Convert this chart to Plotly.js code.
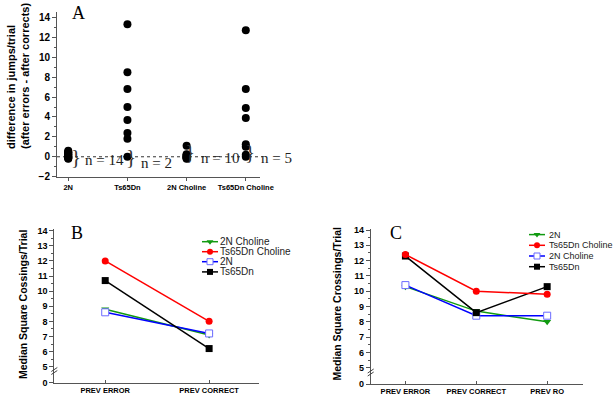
<!DOCTYPE html>
<html><head><meta charset="utf-8">
<script src="https://cdn.plot.ly/plotly-3.0.1.min.js"></script>
<style>html,body{margin:0;padding:0;background:#fff}#chart{width:615px;height:400px}</style>
</head><body><div id="chart"></div>
<script>
// ---------- Panel A data ----------
const groupsA = ["2N", "Ts65Dn", "2N Choline", "Ts65Dn Choline"];
const diff2N = [0.6, 0.5, 0.45, 0.4, 0.3, 0.25, 0.2, 0.1, 0.05, 0.0, -0.05, -0.1, -0.15, -0.2];
const diffTs = [13.3, 8.5, 6.8, 5.0, 3.7, 2.4, 1.8, 0.0];
const diff2NCholine = [1.1, 0.25, 0.2, 0.1, 0.05, 0.0, -0.05, -0.1, -0.15, -0.2];
const diffTsCholine = [12.7, 6.8, 4.9, 3.9, 1.25, 1.0, 0.2, 0.0];
const nLabels = ["n = 14", "n = 2", "n = 10", "n = 5"];
const yTicksA = [-2, 0, 2, 4, 6, 8, 10, 12, 14];

// ---------- Panel B data ----------
const catsB = ["PREV ERROR", "PREV CORRECT"];
const b2NCholine = [8.8, 7.1];
const bTsCholine = [12.0, 8.0];
const b2N = [8.6, 7.2];
const bTs = [10.7, 6.2];

// ---------- Panel C data ----------
const catsC = ["PREV ERROR", "PREV CORRECT", "PREV RO"];
const c2N = [10.3, 8.7, 8.0];
const cTsCholine = [12.4, 10.0, 9.8];
const c2NCholine = [10.4, 8.4, 8.4];
const cTs = [12.3, 8.6, 10.3];

// broken axis tick labels (0, then 5..14)
const brokenTickText = ["0", "5", "6", "7", "8", "9", "10", "11", "12", "13", "14"];
const brokenTickVals = [5, 6, 7, 8, 9, 10, 11, 12, 13, 14];

// ---------- styles ----------
const W = 615, H = 400;
const SANS = "Liberation Sans, Arial, sans-serif";
const SERIF = "Liberation Serif, Times New Roman, serif";
const AX = "#555";
const styles = {
  "2N Choline":     {color: "#119a11", symbol: "triangle-down", line: "#119a11"},
  "Ts65Dn Choline": {color: "#ff0000", symbol: "circle", line: "#ff0000"},
  "2N":             {color: "#ffffff", symbol: "square", line: "#0000ff", edge: "#6b6bff"},
  "Ts65Dn":         {color: "#000000", symbol: "square", line: "#000000"}
};
const stylesC = {
  "2N":             styles["2N Choline"],
  "Ts65Dn Choline": styles["Ts65Dn Choline"],
  "2N Choline":     styles["2N"],
  "Ts65Dn":         styles["Ts65Dn"]
};

function dom(a, b, total) { return [a / total, b / total]; }
function vdom(top, bottom) { return [1 - bottom / H, 1 - top / H]; }

const traces = [];

// Panel A scatter
[diff2N, diffTs, diff2NCholine, diffTsCholine].forEach((vals, i) => {
  traces.push({
    type: "scatter", mode: "markers", xaxis: "x", yaxis: "y",
    x: vals.map(() => groupsA[i]), y: vals,
    marker: {color: "#000", size: 8, symbol: "circle"},
    showlegend: false, hoverinfo: "skip", cliponaxis: false
  });
});

function lineTrace(cats, vals, st, xa, ya) {
  return {
    type: "scatter", mode: "lines+markers", xaxis: xa, yaxis: ya,
    x: cats, y: vals,
    line: {color: st.line, width: 1.5},
    marker: {color: st.color, symbol: st.symbol, size: 7,
             line: {color: st.edge || st.line, width: st.edge ? 1 : 0}},
    showlegend: false, cliponaxis: false
  };
}
// Panel B
const seriesB = [["2N Choline", b2NCholine], ["2N", b2N], ["Ts65Dn", bTs], ["Ts65Dn Choline", bTsCholine]];
seriesB.forEach(([n, v]) => traces.push(lineTrace(catsB, v, styles[n], "x2", "y2")));
// Panel C
const seriesC = [["2N", c2N], ["2N Choline", c2NCholine], ["Ts65Dn", cTs], ["Ts65Dn Choline", cTsCholine]];
seriesC.forEach(([n, v]) => traces.push(lineTrace(catsC, v, stylesC[n], "x3", "y3")));

// ---------- custom legends on pixel overlay axis (x4/y4) ----------
const annotations = [];
function legend(names, stl, x0, x1, tx, ys, fs) {
  names.forEach((n, i) => {
    const st = stl[n];
    traces.push({type: "scatter", mode: "lines", xaxis: "x4", yaxis: "y4",
      x: [x0, x1], y: [ys[i], ys[i]], line: {color: st.line, width: 1.5},
      showlegend: false, hoverinfo: "skip", cliponaxis: false});
    traces.push({type: "scatter", mode: "markers", xaxis: "x4", yaxis: "y4",
      x: [(x0 + x1) / 2], y: [ys[i]],
      marker: {color: st.color, symbol: st.symbol, size: 6,
               line: {color: st.edge || st.line, width: st.edge ? 1 : 0}},
      showlegend: false, hoverinfo: "skip", cliponaxis: false});
    annotations.push({xref: "x4", yref: "y4", x: tx, y: ys[i], text: n, showarrow: false,
      xanchor: "left", yanchor: "middle", font: {family: SANS, size: fs, color: "#222"}});
  });
}
legend(["2N Choline", "Ts65Dn Choline", "2N", "Ts65Dn"], styles, 202, 218, 218, [241.7, 251.7, 261.7, 271.9], 10);
legend(["2N", "Ts65Dn Choline", "2N Choline", "Ts65Dn"], stylesC, 529, 545, 546.5, [234.6, 245.3, 256, 266.7], 9);

// panel letters
[["A", 78, 13], ["B", 77, 233], ["C", 395.5, 233]].forEach(([t, x, y]) => {
  annotations.push({xref: "x4", yref: "y4", x: x, y: y, text: t, showarrow: false,
    xanchor: "center", yanchor: "middle", font: {family: SERIF, size: 18, color: "#000"}});
});

// axis titles
annotations.push({xref: "x4", yref: "y4", x: 18, y: 76, textangle: -90, showarrow: false,
  text: "<b>difference in jumps/trial<br>(after errors - after corrects)</b>", align: "left",
  font: {family: SANS, size: 11, color: "#000"}, xanchor: "center", yanchor: "middle"});
annotations.push({xref: "x4", yref: "y4", x: 23, y: 305, textangle: -90, showarrow: false,
  text: "<b>Median Square Cossings/Trial</b>",
  font: {family: SANS, size: 10.5, color: "#000"}, xanchor: "center", yanchor: "middle"});
annotations.push({xref: "x4", yref: "y4", x: 336.5, y: 304, textangle: -90, showarrow: false,
  text: "<b>Median Square Crossings/Trial</b>",
  font: {family: SANS, size: 10.5, color: "#000"}, xanchor: "center", yanchor: "middle"});

// braces and n labels in panel A
const braceX = [76, 131, 190, 249.5];
const braceY = [156.5, 157, 152, 152];
const nX = [83, 139, 199, 259];
const nY = [159.5, 162.5, 157.5, 157.5];
nLabels.forEach((t, i) => {
  annotations.push({xref: "x4", yref: "y4", x: braceX[i], y: braceY[i], text: "}", showarrow: false,
    xanchor: "center", yanchor: "middle", font: {family: SERIF, size: 21, color: "#333"}});
  annotations.push({xref: "x4", yref: "y4", x: nX[i], y: nY[i], text: t.replace(/ /g, "\u00a0"), showarrow: false,
    xanchor: "left", yanchor: "middle", font: {family: SERIF, size: 15, color: "#222"}});
});

// ---------- shapes ----------
const shapes = [
  {type: "line", xref: "x domain", yref: "y", x0: 0, x1: 1.01, y0: 0, y1: 0,
   line: {color: "#333", width: 1, dash: "dot"}, layer: "below"}
];
// axis break marks
[[54.3, 369.5], [54.3, 372.5], [370.7, 371], [370.7, 374]].forEach(([x, y]) => {
  shapes.push({type: "line", xref: "x4", yref: "y4", x0: x - 3, x1: x + 3, y0: y + 2, y1: y - 2,
    line: {color: "#444", width: 1}});
});

const minorBroken = brokenTickVals.slice(0, -1).map(v => v + 0.5);
function brokenAxis(domain, zeroPos, top) {
  return {domain: domain, range: [zeroPos, top], tickmode: "array", tickvals: [zeroPos].concat(brokenTickVals),
    ticktext: brokenTickText, ticks: "outside", ticklen: 4, tickcolor: AX, tickwidth: 1,
    minor: {tickmode: "array", tickvals: minorBroken, ticks: "outside", ticklen: 2, tickcolor: AX, showgrid: false},
    showline: true, linecolor: AX, linewidth: 1, showgrid: false, zeroline: false,
    tickfont: {family: SANS, size: 9, color: "#000", weight: "bold"}};
}
function catAxis(domain, range, anchor) {
  return {domain: domain, range: range, type: "category", anchor: anchor,
    ticks: "inside", ticklen: 3, tickcolor: AX, showline: true, linecolor: AX, linewidth: 1,
    showgrid: false, zeroline: false,
    tickfont: {family: SANS, size: 7.5, color: "#000", weight: "bold"}};
}

const layout = {
  width: W, height: H, margin: {l: 0, r: 0, t: 0, b: 0},
  paper_bgcolor: "#fff", plot_bgcolor: "rgba(0,0,0,0)", showlegend: false,
  xaxis: {domain: dom(57, 260, W), range: [-0.19, 3.24], type: "category", anchor: "y",
    ticks: "outside", ticklen: 3, tickcolor: AX, showline: true, linecolor: AX, linewidth: 1,
    showgrid: false, zeroline: false,
    tickfont: {family: SANS, size: 7.5, color: "#000", weight: "bold"}},
  yaxis: {domain: vdom(12.4, 176.7), range: [-2, 14.5], anchor: "x", tickmode: "array", tickvals: yTicksA,
    ticks: "outside", ticklen: 4, tickcolor: AX, showline: true, linecolor: AX, linewidth: 1,
    minor: {tickmode: "linear", tick0: -1, dtick: 2, ticks: "outside", ticklen: 2, tickcolor: AX, showgrid: false},
    showgrid: false, zeroline: false,
    tickfont: {family: SANS, size: 10, color: "#000", weight: "bold"}},
  xaxis2: catAxis(dom(54.3, 259, W), [-0.49, 1.48], "y2"),
  yaxis2: Object.assign(brokenAxis(vdom(229.2, 382.7), 3.94, 14.1), {anchor: "x2"}),
  xaxis3: catAxis(dom(370.7, 583.3, W), [-0.49, 2.51], "y3"),
  yaxis3: Object.assign(brokenAxis(vdom(228.5, 384), 3.935, 14.1), {anchor: "x3"}),
  xaxis4: {domain: [0, 1], range: [0, W], visible: false, fixedrange: true, anchor: "y4"},
  yaxis4: {domain: [0, 1], range: [H, 0], visible: false, fixedrange: true, anchor: "x4"},
  annotations: annotations,
  shapes: shapes
};

Plotly.newPlot("chart", traces, layout, {displayModeBar: false, staticPlot: true});
</script></body></html>
